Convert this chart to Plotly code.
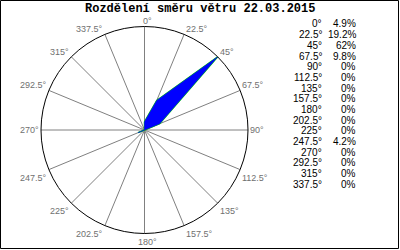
import math
import plotly.graph_objects as go

directions = [0, 22.5, 45, 67.5, 90, 112.5, 135, 157.5, 180, 202.5, 225, 247.5, 270, 292.5, 315, 337.5]
dir_labels = ["0°", "22.5°", "45°", "67.5°", "90°", "112.5°", "135°", "157.5°", "180°",
              "202.5°", "225°", "247.5°", "270°", "292.5°", "315°", "337.5°"]
percent = [4.9, 19.2, 62, 9.8, 0, 0, 0, 0, 0, 0, 0, 4.2, 0, 0, 0, 0]
percent_labels = ["4.9%", "19.2%", "62%", "9.8%", "0%", "0%", "0%", "0%", "0%", "0%",
                  "0%", "4.2%", "0%", "0%", "0%", "0%"]
title = "Rozdělení směru větru 22.03.2015"

W, H = 400, 250
mono = "Liberation Mono, DejaVu Sans Mono, monospace"
sans = "Liberation Sans, DejaVu Sans, sans-serif"

theta = directions + [directions[0]]
r = percent + [percent[0]]

fig = go.Figure()
fig.add_trace(go.Scatterpolar(r=r, theta=theta, mode="lines",
                              line=dict(color="#00cc00", width=1.5), hoverinfo="skip"))
fig.add_trace(go.Scatterpolar(r=r, theta=theta, mode="lines", fill="toself",
                              fillcolor="#0000ff", line=dict(color="#0000ff", width=0.5),
                              hoverinfo="skip"))

cx, cy, R = 144.5, 130, 103.5
fig.update_layout(
    width=W, height=H,
    margin=dict(l=0, r=0, t=0, b=0),
    paper_bgcolor="white",
    showlegend=False,
    polar=dict(
        domain=dict(x=[(cx - R) / W, (cx + R) / W], y=[(H - cy - R) / H, (H - cy + R) / H]),
        bgcolor="white",
        angularaxis=dict(direction="clockwise", rotation=90, tickmode="array",
                         tickvals=directions, ticktext=dir_labels, showticklabels=False,
                         showline=True, linecolor="black", linewidth=1,
                         gridcolor="#808080", gridwidth=1, ticks=""),
        radialaxis=dict(visible=False, range=[0, max(percent)]),
    ),
)

# angular labels placed just outside spoke ends
for a, lab in zip(directions, dir_labels):
    s, c = math.sin(math.radians(a)), math.cos(math.radians(a))
    px = cx + R * s
    py = cy - R * c
    if s > 0.01:
        xa = "left"; px += 1
    elif s < -0.01:
        xa = "right"; px -= 1
    else:
        xa = "center"; px += 3
    if c > 0.2:
        ya = "bottom"; py += 1
    elif c < -0.2:
        ya = "top"; py += 2
    else:
        ya = "middle"
    fig.add_annotation(x=px / W, y=(H - py) / H, xref="paper", yref="paper", text=lab,
                       showarrow=False, font=dict(family=sans, size=9, color="#707070"),
                       xanchor=xa, yanchor=ya, borderpad=0)

fig.add_annotation(x=0.5, y=(H - 9) / H, xref="paper", yref="paper", text="<b>" + title + "</b>",
                   showarrow=False, font=dict(family=mono, size=12, color="black"),
                   xanchor="center", yanchor="middle")

for i, (lab, p) in enumerate(zip(dir_labels, percent_labels)):
    y = (H - (24 + 10.67 * i)) / H
    fig.add_annotation(x=323 / W, y=y, xref="paper", yref="paper", text=lab, showarrow=False,
                       font=dict(family=sans, size=10, color="black"), xanchor="right",
                       yanchor="middle", borderpad=0)
    fig.add_annotation(x=357 / W, y=y, xref="paper", yref="paper", text=p, showarrow=False,
                       font=dict(family=sans, size=10, color="black"), xanchor="right",
                       yanchor="middle", borderpad=0)

fig.add_shape(type="rect", xref="paper", yref="paper",
              x0=0.5 / W, x1=398.5 / W, y0=(H - 248.5) / H, y1=(H - 0.5) / H,
              line=dict(color="black", width=1))

fig.write_html("out.html")
